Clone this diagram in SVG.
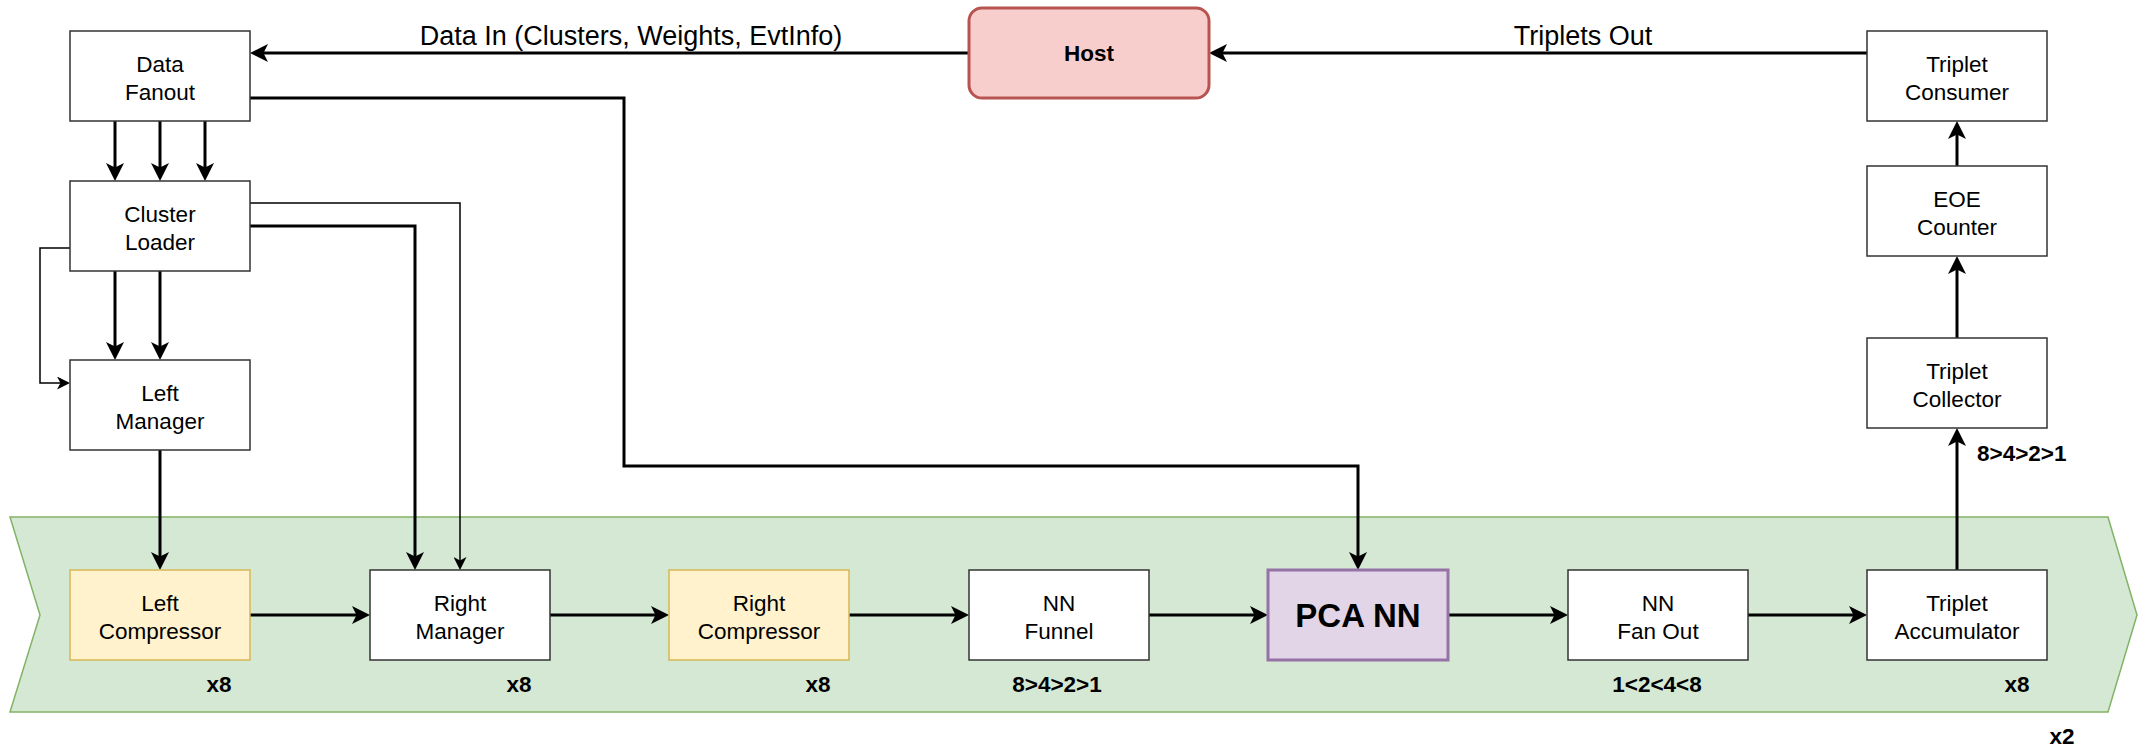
<svg xmlns="http://www.w3.org/2000/svg" width="2147" height="749" viewBox="0 0 2147 749">
<style>
text{font-family:"Liberation Sans",Arial,Helvetica,sans-serif;fill:#000}
.lbl{font-size:22.5px;text-anchor:middle}
.b{font-weight:bold}
.box{fill:#fff;stroke:#333;stroke-width:1.5}
.yel{fill:#fff2cc;stroke:#d6b656;stroke-width:1.5}
.pur{fill:#e1d5e7;stroke:#9673a6;stroke-width:3}
.host{fill:#f8cecc;stroke:#b85450;stroke-width:3}
.thick{fill:none;stroke:#000;stroke-width:3;marker-end:url(#ah)}
.thin{fill:none;stroke:#000;stroke-width:1.5;marker-end:url(#at)}
.plain{fill:none;stroke:#000;stroke-width:3}
</style>
<defs>
<marker id="ah" markerUnits="userSpaceOnUse" markerWidth="18" markerHeight="18" viewBox="0 0 18 18" refX="8" refY="9" orient="auto">
<path d="M0 0 L18 9 L0 18 L4.5 9 Z" fill="#000"/>
</marker>
<marker id="at" markerUnits="userSpaceOnUse" markerWidth="13" markerHeight="13" viewBox="0 0 13 13" refX="7" refY="6.5" orient="auto">
<path d="M0 0 L13 6.5 L0 13 L3.5 6.5 Z" fill="#000"/>
</marker>
</defs>

<g id="band">
<polygon points="10,517 2108,517 2137,615 2108,712 10,712 40,615" fill="#d5e8d4" stroke="#82b366" stroke-width="1.5"/>
</g>

<g id="connectors">
<path class="thick" d="M968 53 H260"/>
<path class="thick" d="M1868 53 H1219"/>
<path class="thick" d="M115 121 V171"/>
<path class="thick" d="M160 121 V171"/>
<path class="thick" d="M205 121 V171"/>
<path class="thick" d="M250 98 H624 V466 H1358 V560"/>
<path class="thin" d="M250 203 H460 V564"/>
<path class="thick" d="M250 226 H415 V560"/>
<path class="thin" d="M70 248 H40 V383 H64"/>
<path class="thick" d="M115 271 V350"/>
<path class="thick" d="M160 271 V350"/>
<path class="thick" d="M160 450 V560"/>
<path class="thick" d="M250 615 H360"/>
<path class="thick" d="M550 615 H659"/>
<path class="thick" d="M849 615 H959"/>
<path class="thick" d="M1149 615 H1258"/>
<path class="thick" d="M1448 615 H1558"/>
<path class="thick" d="M1748 615 H1857"/>
<path class="thick" d="M1957 570 V438"/>
<path class="thick" d="M1957 338 V266"/>
<path class="thick" d="M1957 166 V131"/>
<text x="631" y="45" style="font-size:27px;text-anchor:middle">Data In (Clusters, Weights, EvtInfo)</text>
<text x="1583" y="45" style="font-size:27px;text-anchor:middle">Triplets Out</text>
<text x="1977" y="461" class="b" style="font-size:22.5px">8&gt;4&gt;2&gt;1</text>
</g>

<g id="host">
<rect class="host" x="969" y="8" width="240" height="90" rx="13"/>
<text class="lbl b" x="1089" y="61">Host</text>
</g>
<g id="data-fanout">
<rect class="box" x="70" y="31" width="180" height="90"/>
<text class="lbl" x="160" y="72">Data</text>
<text class="lbl" x="160" y="100">Fanout</text>
</g>
<g id="cluster-loader">
<rect class="box" x="70" y="181" width="180" height="90"/>
<text class="lbl" x="160" y="222">Cluster</text>
<text class="lbl" x="160" y="250">Loader</text>
</g>
<g id="left-manager">
<rect class="box" x="70" y="360" width="180" height="90"/>
<text class="lbl" x="160" y="401">Left</text>
<text class="lbl" x="160" y="429">Manager</text>
</g>
<g id="triplet-consumer">
<rect class="box" x="1867" y="31" width="180" height="90"/>
<text class="lbl" x="1957" y="72">Triplet</text>
<text class="lbl" x="1957" y="100">Consumer</text>
</g>
<g id="eoe-counter">
<rect class="box" x="1867" y="166" width="180" height="90"/>
<text class="lbl" x="1957" y="207">EOE</text>
<text class="lbl" x="1957" y="235">Counter</text>
</g>
<g id="triplet-collector">
<rect class="box" x="1867" y="338" width="180" height="90"/>
<text class="lbl" x="1957" y="379">Triplet</text>
<text class="lbl" x="1957" y="407">Collector</text>
</g>

<g id="left-compressor">
<rect class="yel" x="70" y="570" width="180" height="90"/>
<text class="lbl" x="160" y="611">Left</text>
<text class="lbl" x="160" y="639">Compressor</text>
<text class="lbl b" x="219" y="692">x8</text>
</g>
<g id="right-manager">
<rect class="box" x="370" y="570" width="180" height="90"/>
<text class="lbl" x="460" y="611">Right</text>
<text class="lbl" x="460" y="639">Manager</text>
<text class="lbl b" x="519" y="692">x8</text>
</g>
<g id="right-compressor">
<rect class="yel" x="669" y="570" width="180" height="90"/>
<text class="lbl" x="759" y="611">Right</text>
<text class="lbl" x="759" y="639">Compressor</text>
<text class="lbl b" x="818" y="692">x8</text>
</g>
<g id="nn-funnel">
<rect class="box" x="969" y="570" width="180" height="90"/>
<text class="lbl" x="1059" y="611">NN</text>
<text class="lbl" x="1059" y="639">Funnel</text>
<text class="lbl b" x="1057" y="692">8&gt;4&gt;2&gt;1</text>
</g>
<g id="pca-nn">
<rect class="pur" x="1268" y="570" width="180" height="90"/>
<text class="b" x="1358" y="627" style="font-size:33px;text-anchor:middle">PCA NN</text>
</g>
<g id="nn-fan-out">
<rect class="box" x="1568" y="570" width="180" height="90"/>
<text class="lbl" x="1658" y="611">NN</text>
<text class="lbl" x="1658" y="639">Fan Out</text>
<text class="lbl b" x="1657" y="692">1&lt;2&lt;4&lt;8</text>
</g>
<g id="triplet-accumulator">
<rect class="box" x="1867" y="570" width="180" height="90"/>
<text class="lbl" x="1957" y="611">Triplet</text>
<text class="lbl" x="1957" y="639">Accumulator</text>
<text class="lbl b" x="2017" y="692">x8</text>
</g>
<g id="repeat-label">
<text class="lbl b" x="2062" y="744">x2</text>
</g>
</svg>
